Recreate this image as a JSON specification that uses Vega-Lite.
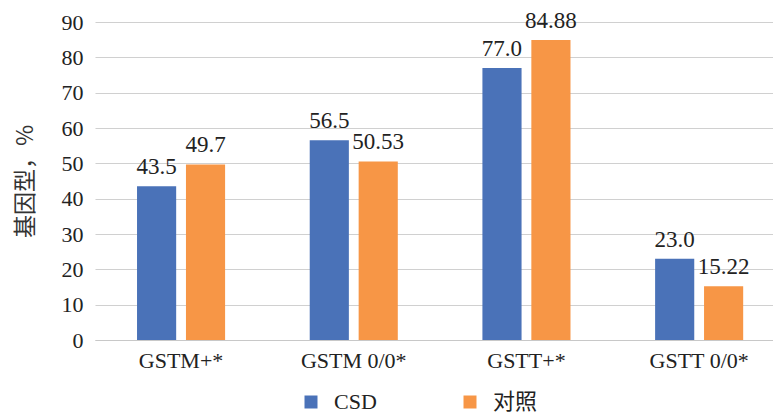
{
  "$schema": "https://vega.github.io/schema/vega-lite/v6.json",
  "autosize": "none",
  "width": 678,
  "height": 318,
  "padding": {"left": 95, "top": 22, "right": 0, "bottom": 75},
  "background": "white",
  "data": {
    "values": [
      {"genotype": "GSTM+*", "group": "CSD", "value": 43.5, "label": "43.5"},
      {"genotype": "GSTM+*", "group": "对照", "value": 49.7, "label": "49.7"},
      {"genotype": "GSTM 0/0*", "group": "CSD", "value": 56.5, "label": "56.5"},
      {"genotype": "GSTM 0/0*", "group": "对照", "value": 50.53, "label": "50.53"},
      {"genotype": "GSTT+*", "group": "CSD", "value": 77.0, "label": "77.0"},
      {"genotype": "GSTT+*", "group": "对照", "value": 84.88, "label": "84.88"},
      {"genotype": "GSTT 0/0*", "group": "CSD", "value": 23.0, "label": "23.0"},
      {"genotype": "GSTT 0/0*", "group": "对照", "value": 15.22, "label": "15.22"}
    ]
  },
  "encoding": {
    "x": {
      "field": "genotype", "type": "nominal", "sort": null,
      "scale": {"paddingInner": 0.49, "paddingOuter": 0.208, "align": 0.585},
      "axis": {
        "title": null, "labelAngle": 0, "labelFont": "Liberation Serif, serif", "labelFontSize": 22,
        "labelColor": "#222222", "labelPadding": 10, "ticks": false,
        "domainColor": "#c8c8c8", "domainWidth": 1.2, "grid": false
      }
    },
    "xOffset": {"field": "group", "type": "nominal", "sort": ["CSD", "对照"], "scale": {"paddingInner": 0.2}},
    "y": {
      "field": "value", "type": "quantitative",
      "scale": {"domain": [0, 90]},
      "axis": {
        "title": "基因型，%", "values": [0,10,20,30,40,50,60,70,80,90],
        "titleFont": "Noto Sans CJK SC", "titleFontSize": 23, "titleFontWeight": "normal",
        "titleColor": "#333333", "titlePadding": 24,
        "labelFont": "Liberation Serif, serif", "labelFontSize": 22, "labelColor": "#222222",
        "labelPadding": 12, "ticks": false, "domain": false,
        "gridColor": "#d0d0d0", "gridWidth": 1.2
      }
    }
  },
  "layer": [
    {
      "mark": {"type": "bar"},
      "encoding": {
        "color": {
          "field": "group", "type": "nominal", "sort": ["CSD", "对照"],
          "scale": {"domain": ["CSD", "对照"], "range": ["#4a72b8", "#f79646"]},
          "legend": {
            "title": null, "orient": "none", "direction": "horizontal",
            "legendX": 205, "legendY": 369,
            "symbolType": "square", "symbolSize": 169, "symbolStrokeWidth": 0,
            "labelFont": "Liberation Serif, Noto Sans CJK SC", "labelFontSize": 22, "labelColor": "#222222",
            "labelOffset": 12, "columnPadding": 82
          }
        }
      }
    },
    {
      "mark": {"type": "text", "baseline": "alphabetic", "dy": -12, "font": "Liberation Serif, serif", "fontSize": 23, "color": "#222222"},
      "encoding": {"text": {"field": "label"}}
    }
  ],
  "config": {"view": {"stroke": null}}
}
